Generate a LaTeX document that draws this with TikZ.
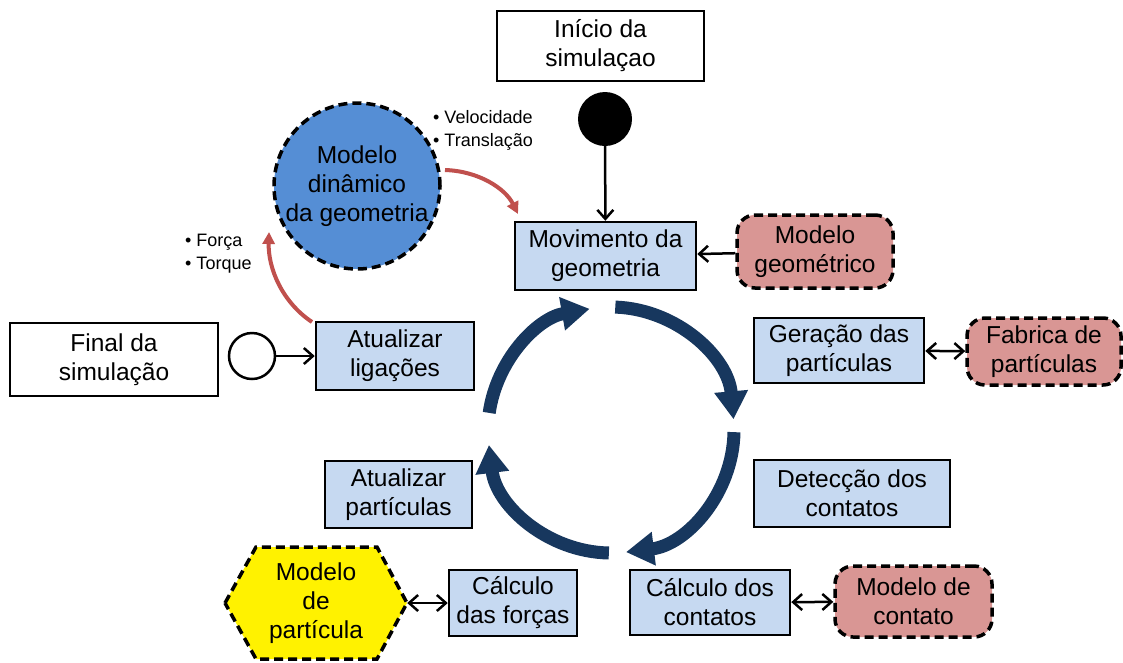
\documentclass[tikz,border=0pt]{standalone}
\usepackage{fontspec}
\setmainfont{Liberation Sans}
\usetikzlibrary{arrows.meta,shapes.geometric}
\definecolor{boxblue}{HTML}{C6D9F1}
\definecolor{boxred}{HTML}{D99694}
\definecolor{circblue}{HTML}{558ED5}
\definecolor{navy}{HTML}{17375E}
\definecolor{redarr}{HTML}{C0504D}
\begin{document}
\begin{tikzpicture}[x=1pt,y=1pt,
  txt/.style={font=\fontsize{24.5}{29}\selectfont, align=center, inner sep=0pt},
  whitebox/.style={txt, draw=black, line width=2.5pt, fill=white, rectangle},
  bluebox/.style={txt, draw=black, line width=2.5pt, fill=boxblue, rectangle},
  redbox/.style={txt, draw=black, line width=3.5pt, dash pattern=on 9pt off 5pt, fill=boxred, rounded corners=18pt, rectangle},
  conn/.style={line width=2.5pt, -{Straight Barb[length=9pt,width=16pt,line width=2.5pt]}},
  dconn/.style={line width=2.5pt, {Straight Barb[length=9pt,width=16pt,line width=2.5pt]}-{Straight Barb[length=9pt,width=16pt,line width=2.5pt]}},
  cyc/.style={navy, line width=13pt, -{Triangle[length=28pt,width=32pt]}},
  redcurve/.style={redarr, line width=4pt, -{Triangle[length=12pt,width=12pt]},
     preaction={draw=white, line width=8pt, -{Triangle[length=15pt,width=17pt]}}},
  small/.style={font=\fontsize{18}{23}\selectfont, align=left, inner sep=0pt, anchor=north west}
]
\useasboundingbox (0,0) rectangle (1123,-662);

% nodes
\node[whitebox, minimum width=207pt, minimum height=70pt] (inicio) at (600.5,-46) {Início da\\simulaçao};
\node[circle, fill=black, minimum size=54pt, inner sep=0pt] (start) at (605,-119) {};
\node[bluebox, minimum width=181pt, minimum height=68pt] (mov) at (605.5,-256) {Movimento da\\geometria};
\node[redbox, minimum width=156pt, minimum height=73pt] (geom) at (815,-251.5) {Modelo\\geométrico};
\node[txt, circle, draw=black, line width=3.5pt, dash pattern=on 9pt off 5pt, fill=circblue, minimum size=166pt] (din) at (357,-186) {Modelo\\dinâmico\\da geometria};
\node[whitebox, minimum width=208pt, minimum height=73pt] (final) at (114,-359.5) {Final da\\simulação};
\node[circle, draw=black, line width=2.5pt, fill=white, minimum size=46pt, inner sep=0pt] (stop) at (252,-356) {};
\node[bluebox, minimum width=158pt, minimum height=68pt] (atlig) at (395,-356) {Atualizar\\ligações};
\node[bluebox, minimum width=170pt, minimum height=65pt] (ger) at (839,-350.5) {Geração das\\partículas};
\node[redbox, minimum width=154pt, minimum height=67pt] (fab) at (1044,-351.5) {Fabrica de\\partículas};
\node[bluebox, minimum width=196pt, minimum height=67pt] (det) at (852,-493.5) {Detecção dos\\contatos};
\node[bluebox, minimum width=147pt, minimum height=67pt] (atpart) at (398.5,-494.5) {Atualizar\\partículas};
\node[bluebox, minimum width=160pt, minimum height=65pt] (ccont) at (710,-602.5) {Cálculo dos\\contatos};
\node[redbox, minimum width=157pt, minimum height=71pt] (mcont) at (913.5,-601.5) {Modelo de\\contato};
\node[bluebox, minimum width=128pt, minimum height=66pt] (cforc) at (513,-603) {Cálculo\\das forças};

% hexagon
\draw[line width=3.5pt, dash pattern=on 9pt off 5pt, fill=yellow]
  (225,-603) -- (256,-547) -- (377,-547) -- (407,-603) -- (377,-659) -- (256,-659) -- cycle;
\node[txt, minimum width=182pt, minimum height=112pt] (hex) at (316,-603) {Modelo\\de\\partícula};

% connectors
\draw[conn] (start) -- (mov);
\draw[conn] (geom) -- (mov);
\draw[conn] (stop) -- (atlig);
\draw[dconn] (ger) -- (fab);
\draw[dconn] (ccont) -- (mcont);
\draw[dconn] (hex) -- (cforc);

% cycle
\coordinate (cc) at (611,-430);
\draw[cyc] ([shift={(88:123pt)}]cc) arc[start angle=88, end angle=5, radius=123pt];
\draw[cyc] ([shift={(-1:123pt)}]cc) arc[start angle=-1, end angle=-83, radius=123pt];
\draw[cyc] ([shift={(-91:123pt)}]cc) arc[start angle=-91, end angle=-173, radius=123pt];
\draw[cyc] ([shift={(172:123pt)}]cc) arc[start angle=172, end angle=100, radius=123pt];

% red curved arrows
\coordinate (r1s) at (445,-170);
\coordinate (r1e) at (518,-214);
\draw[redcurve] (r1s) .. controls (478,-171) and (505,-188) .. (r1e);
\coordinate (r2s) at (312,-322);
\coordinate (r2e) at (269,-232);
\draw[redcurve] (r2s) .. controls (282,-302) and (268,-268) .. (r2e);

% labels
\node[small] (vel) at (433,-110) {• Velocidade\\• Translação};
\node[small] (for) at (185,-234) {• Força\\• Torque};
\end{tikzpicture}
\end{document}
